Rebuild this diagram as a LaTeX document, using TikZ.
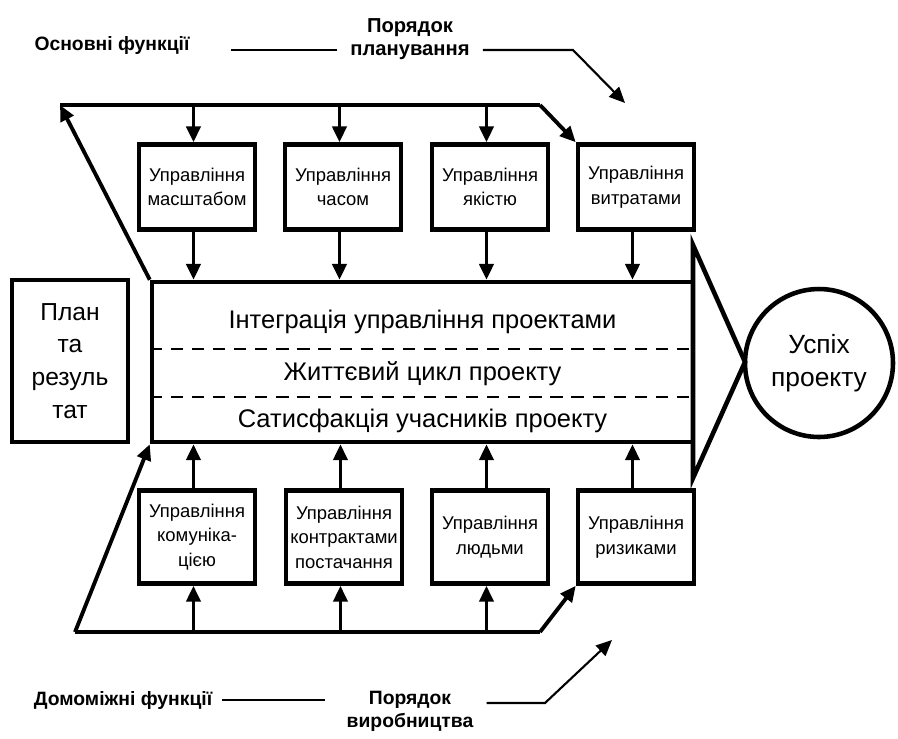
\documentclass[tikz,border=0pt]{standalone}
\usepackage{fontspec}
\setmainfont{Liberation Sans}
\usetikzlibrary{arrows.meta}

\begin{document}
\begin{tikzpicture}[x=0.02cm, y=-0.02cm,
  fbox/.style={draw, line width=2.6pt, minimum width=2.32cm, align=center,
    inner sep=1pt, font=\fontsize{10.5}{14}\selectfont},
  bus/.style={line width=2.2pt},
  arr/.style={-{Triangle[length=9pt, width=8pt]}},
  lbl/.style={font=\fontsize{11}{13}\selectfont\bfseries, align=center},
  row/.style={font=\fontsize{14.5}{17}\selectfont},
  thinline/.style={line width=1.2pt}]
\useasboundingbox (0,0) rectangle (898,738);

% main block
\node[draw, line width=2.6pt, minimum width=10.82cm, minimum height=3.2cm] (main) at (422.5,362) {};
\draw[line width=0.8pt, dash pattern=on 7pt off 5pt] (main.west |- 0,349) -- (main.east |- 0,349);
\draw[line width=0.8pt, dash pattern=on 7pt off 5pt] (main.west |- 0,397) -- (main.east |- 0,397);
\node[row] (r1) at (422.5,322) {Інтеграція управління проектами};
\node[row] (r2) at (422.5,374) {Життєвий цикл проекту};
\node[row] (r3) at (422.5,421) {Сатисфакція учасників проекту};
\draw[line width=2.6pt, line join=miter] (693,245) -- (745,362) -- (693,478) -- cycle;

% plan and result
\node[draw, line width=2.6pt, minimum width=2.32cm, minimum height=3.24cm, align=center,
  font=\fontsize{14}{18.7}\selectfont] (plan) at (70,361) {План\\та\\резуль\\тат};
% success
\node[draw, circle, line width=2.6pt, minimum size=2.96cm, align=center,
  font=\fontsize{15}{19}\selectfont] (usp) at (819,363) {Успіх\\проекту};

% main functions
\foreach \n/\x/\t in {t1/197/{Управління\\масштабом}, t2/343/{Управління\\часом},
    t3/490/{Управління\\якістю}, t4/636/{Управління\\витратами}} {
  \node[fbox, minimum height=1.7cm] (\n) at (\x,187) {\t};
  \draw[bus, arr] ([xshift=-2pt]\n.south) -- ([xshift=-2pt]\n.south |- main.north);
}
\coordinate (tl) at (60,105);
\foreach \n in {t1,t2,t3} \draw[bus, arr] ([xshift=-2pt]\n.north |- tl) -- ([xshift=-2pt]\n.north);
\draw[bus, arr] (540,105) -- (t4.north west);
\draw[bus] (tl) -- (540,105);
\draw[bus, arr] (main.north west) -- (tl);

% supporting functions
\foreach \n/\x/\t in {b1/197/{Управління\\комуніка-\\цією}, b2/344/{Управління\\контрактами\\постачання},
    b3/490/{Управління\\людьми}, b4/636/{Управління\\ризиками}} {
  \node[fbox, minimum height=1.86cm] (\n) at (\x,537) {\t};
  \draw[bus, arr] ([xshift=-2pt]\n.north) -- ([xshift=-2pt]\n.north |- main.south);
}
\coordinate (bl) at (75,632);
\foreach \n in {b1,b2,b3} \draw[bus, arr] ([xshift=-2pt]\n.south |- bl) -- ([xshift=-2pt]\n.south);
\draw[bus, arr] (540,632) -- (b4.south west);
\draw[bus] (bl) -- (540,632);
\draw[bus, arr] (bl) -- (main.south west);

% labels
\node[lbl] (osn) at (112,45) {Основні функції};
\node[lbl, font=\fontsize{11.5}{13}\selectfont\bfseries] (porT) at (410,39) {Порядок\\планування};
\node[lbl] (dom) at (123,700) {Домоміжні функції};
\node[lbl] (porB) at (410,711) {Порядок\\виробництва};
\coordinate (endT) at (625,103);
\coordinate (endB) at (612,640);
\draw[thinline] ([xshift=20pt]osn.east |- 0,50) -- ([xshift=-4pt]porT.west |- 0,50);
\draw[thinline, arr] ([xshift=4pt]porT.east |- 0,50) -- (573,50) -- (endT);
\draw[thinline] ([xshift=2pt]dom.east) -- (325,700);
\draw[thinline, arr] ([xshift=4pt]porB.east |- 0,703) -- (545,703) -- (endB);
\end{tikzpicture}
\end{document}
